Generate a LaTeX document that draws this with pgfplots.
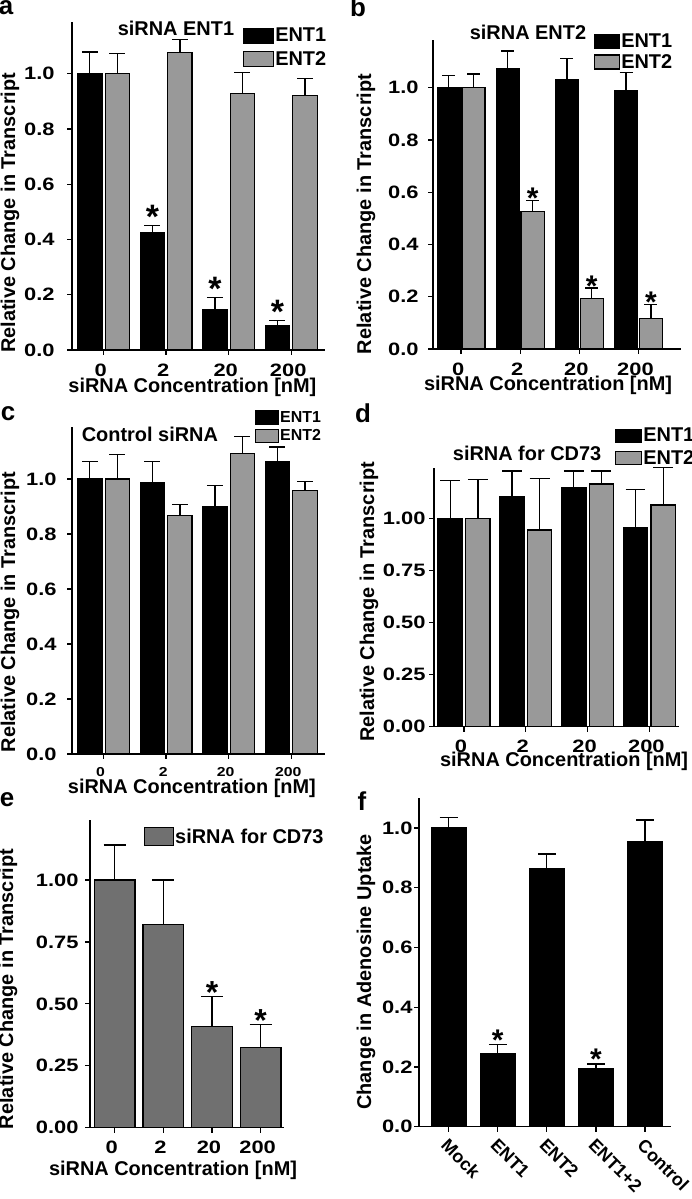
\documentclass[border=0pt]{standalone}
\usepackage{pgfplots}
\pgfplotsset{compat=1.18}
\usepackage{fontspec}
\setmainfont{Liberation Sans}
\newfontfamily\tickfont{Liberation Sans}[FakeStretch=1.22]
\newcommand\fs[1]{\fontsize{#1}{#1}\selectfont\bfseries}
\newcommand\tf[1]{\fontsize{#1}{#1}\selectfont\tickfont\bfseries}
\definecolor{barA}{gray}{0.6}
\definecolor{barE}{gray}{0.44}
\pgfplotsset{
  panel/.style={scale only axis, anchor=south west, clip=false,
    axis lines=left, axis line style={-, line width=1.3pt, black},
    every tick/.style={line width=1.3pt, black}, tick align=outside, major tick length=5pt,
    ymin=0, xtick={0,1,2,3}, xticklabels={0,2,20,200},
    /pgf/number format/assume math mode=true,
    tick label style={font=\tf{18}, black},
    xticklabel style={yshift=-5pt, xshift=-3pt},
    label style={font=\fs{20}},
    title style={font=\fs{20}, anchor=center, yshift=-6pt},
    legend cell align=left,
  },
  legimg/.style 2 args={legend image code/.code={\draw[##1, line width=1.2pt] (0pt,-0.5*#2) rectangle (#1,0.5*#2);}},
  leg/.style n args={3}{legend style={draw=none, fill=none, at={(axis description cs:#1,#2)}, anchor=north west,
      font=\fs{20}, inner sep=0pt, row sep=#3, nodes={inner sep=1pt}}},
  eb/.style={/pgfplots/error bars/y dir=plus, /pgfplots/error bars/y explicit,
    /pgfplots/error bars/error bar style={line width=1.3pt, black},
    /pgfplots/error bars/error mark options={rotate=90, mark size=#1, line width=1.3pt, black}},
  bbar/.style={ybar, bar shift=0pt, fill=black, draw=black, line width=1.2pt, curlegimg},
  gbar/.style={ybar, bar shift=0pt, fill=barA, draw=black, line width=1.2pt, curlegimg},
  curlegimg/.style={legimg={30pt}{15pt}},
  stars/.style 2 args={mark=none, draw=none, forget plot,
    nodes near coords={\fs{#2}*},
    every node near coord/.append style={anchor=base, inner sep=0pt, yshift=#1}},
}
\begin{document}
\begin{tikzpicture}
\path[use as bounding box] (0,0) rectangle (692bp,-1199bp);
\node[font=\fs{26}] at (6bp,-8bp) {a};
\node[font=\fs{26}] at (358bp,-7bp) {b};
\node[font=\fs{26}] at (8bp,-414bp) {c};
\node[font=\fs{26}] at (363bp,-413bp) {d};
\node[font=\fs{26}] at (7bp,-800bp) {e};
\node[font=\fs{26}] at (362bp,-801bp) {f};

% ---------- a ----------
\begin{axis}[panel, at={(72bp,-350bp)}, width=253bp, height=328bp,
  xmin=-0.505, xmax=3.54, ymax=1.187,
  ytick={0,0.2,0.4,0.6,0.8,1.0},
  yticklabel style={xshift=-9pt, /pgf/number format/.cd, fixed, fixed zerofill, precision=1},
  xlabel={siRNA Concentration [nM]}, ylabel={Relative Change in Transcript},
  xlabel style={at={(axis description cs:0.476,-0.113)}, anchor=center},
  ylabel style={at={(axis description cs:-0.245,0.418)}, anchor=center},
  title={siRNA ENT1}, title style={at={(axis description cs:0.411,0.982)}},
  leg={0.676}{0.985}{6pt}, curlegimg/.style={legimg={30pt}{15pt}}]
\addplot[bbar, bar width=0.39, eb=8pt] coordinates {
 (-0.22,1.0) +- (0,0.078) (0.78,0.425) +- (0,0.025) (1.78,0.145) +- (0,0.045) (2.78,0.087) +- (0,0.021)};
\addlegendentry{ENT1}
\addplot[gbar, bar width=0.39, eb=8pt] coordinates {
 (0.22,1.0) +- (0,0.072) (1.22,1.076) +- (0,0.048) (2.22,0.928) +- (0,0.077) (3.22,0.922) +- (0,0.06)};
\addlegendentry{ENT2}
\addplot[stars={-3pt}{34}] coordinates {(0.78,0.45) (1.78,0.19) (2.78,0.108)};
\end{axis}

% ---------- b ----------
\begin{axis}[panel, at={(433bp,-349bp)}, width=248bp, height=309bp,
  xmin=-0.475, xmax=3.72, ymax=1.182,
  ytick={0,0.2,0.4,0.6,0.8,1.0},
  yticklabel style={xshift=-6pt, /pgf/number format/.cd, fixed, fixed zerofill, precision=1},
  xlabel={siRNA Concentration [nM]}, ylabel={Relative Change in Transcript},
  xlabel style={at={(axis description cs:0.464,-0.118)}, anchor=center},
  ylabel style={at={(axis description cs:-0.27,0.437)}, anchor=center},
  title={siRNA ENT2}, title style={at={(axis description cs:0.383,1.026)}},
  leg={0.649}{1.023}{3pt}, curlegimg/.style={legimg={25pt}{14pt}}]
\addplot[bbar, bar width=0.39, eb=6.5pt] coordinates {
 (-0.21,1.0) +- (0,0.045) (0.79,1.071) +- (0,0.069) (1.79,1.029) +- (0,0.081) (2.79,0.988) +- (0,0.069)};
\addlegendentry{ENT1}
\addplot[gbar, bar width=0.39, eb=6.5pt] coordinates {
 (0.21,1.0) +- (0,0.052) (1.21,0.525) +- (0,0.042) (2.21,0.192) +- (0,0.041) (3.21,0.116) +- (0,0.053)};
\addlegendentry{ENT2}
\addplot[stars={-8pt}{30}] coordinates {(1.21,0.567) (2.21,0.233) (3.21,0.169)};
\end{axis}

% ---------- c ----------
\begin{axis}[panel, at={(72bp,-754bp)}, width=253bp, height=327bp,
  xmin=-0.505, xmax=3.54, ymax=1.189,
  ytick={0,0.2,0.4,0.6,0.8,1.0},
  yticklabel style={xshift=-7pt, /pgf/number format/.cd, fixed, fixed zerofill, precision=1},
  xticklabel style={font=\tf{13}},
  xlabel={siRNA Concentration [nM]}, ylabel={Relative Change in Transcript},
  xlabel style={at={(axis description cs:0.474,-0.104)}, anchor=center},
  ylabel style={at={(axis description cs:-0.245,0.434)}, anchor=center},
  title={Control siRNA}, title style={at={(axis description cs:0.308,0.976)}},
  leg={0.723}{1.052}{4pt}, legend style={font=\fs{16}}, curlegimg/.style={legimg={23pt}{13pt}}]
\addplot[bbar, bar width=0.39, eb=8pt] coordinates {
 (-0.22,1.0) +- (0,0.064) (0.78,0.988) +- (0,0.076) (1.78,0.898) +- (0,0.078) (2.78,1.064) +- (0,0.052)};
\addlegendentry{ENT1}
\addplot[gbar, bar width=0.39, eb=8pt] coordinates {
 (0.22,1.0) +- (0,0.09) (1.22,0.867) +- (0,0.04) (2.22,1.092) +- (0,0.063) (3.22,0.959) +- (0,0.033)};
\addlegendentry{ENT2}
\end{axis}

% ---------- d ----------
\begin{axis}[panel, at={(434bp,-726.7bp)}, width=245bp, height=258.4bp,
  xmin=-0.486, xmax=3.48, ymax=1.24,
  ytick={0,0.25,0.5,0.75,1.0},
  yticklabel style={xshift=0pt, /pgf/number format/.cd, fixed, fixed zerofill, precision=2},
  xlabel={siRNA Concentration [nM]}, ylabel={Relative Change in Transcript},
  xlabel style={at={(axis description cs:0.531,-0.133)}, anchor=center},
  ylabel style={at={(axis description cs:-0.265,0.483)}, anchor=center},
  title={siRNA for CD73}, title style={at={(axis description cs:0.38,1.059)}},
  leg={0.739}{1.16}{5pt}, curlegimg/.style={legimg={26pt}{13pt}}]
\addplot[bbar, bar width=0.394, eb=10pt] coordinates {
 (-0.224,1.0) +- (0,0.18) (0.776,1.104) +- (0,0.123) (1.776,1.146) +- (0,0.081) (2.776,0.955) +- (0,0.184)};
\addlegendentry{ENT1}
\addplot[gbar, bar width=0.394, eb=10pt] coordinates {
 (0.224,1.0) +- (0,0.187) (1.224,0.944) +- (0,0.246) (2.224,1.165) +- (0,0.062) (3.224,1.064) +- (0,0.181)};
\addlegendentry{ENT2}
\end{axis}

% ---------- e ----------
\begin{axis}[panel, at={(90bp,-1127.7bp)}, width=194bp, height=307.7bp,
  xmin=-0.507, xmax=3.48, ymax=1.242,
  ytick={0,0.25,0.5,0.75,1.0},
  yticklabel style={xshift=-3pt, /pgf/number format/.cd, fixed, fixed zerofill, precision=2},
  xlabel={siRNA Concentration [nM]}, ylabel={Relative Change in Transcript},
  xlabel style={at={(axis description cs:0.428,-0.137)}, anchor=center},
  ylabel style={at={(axis description cs:-0.423,0.451)}, anchor=center},
  leg={0.278}{0.977}{5pt}, curlegimg/.style={legimg={29pt}{18pt}}]
\addplot[ybar, bar shift=0pt, fill=barE, draw=black, line width=1.2pt, curlegimg, bar width=0.836, eb=11pt] coordinates {
 (0,1.0) +- (0,0.141) (1,0.821) +- (0,0.179) (2,0.41) +- (0,0.119) (3,0.323) +- (0,0.094)};
\addlegendentry{siRNA for CD73}
\addplot[stars={-7pt}{32}] coordinates {(2,0.529) (3,0.417)};
\end{axis}

% ---------- f ----------
\begin{axis}[panel, at={(419bp,-1126.7bp)}, width=252bp, height=328.7bp,
  xmin=-0.605, xmax=4.53, ymax=1.10,
  ytick={0,0.2,0.4,0.6,0.8,1.0},
  yticklabel style={xshift=2pt, /pgf/number format/.cd, fixed, fixed zerofill, precision=1},
  xtick={0,1,2,3,4}, xticklabels={Mock,ENT1,ENT2,ENT1+2,Control},
  xticklabel style={font=\fs{18}, rotate=-45, anchor=north west, inner sep=1pt, yshift=3pt, xshift=2pt},
  ylabel={Change in Adenosine Uptake},
  ylabel style={at={(axis description cs:-0.21,0.471)}, anchor=center}]
\addplot[ybar, bar shift=0pt, fill=black, draw=black, line width=1.2pt, bar width=0.71, eb=9pt] coordinates {
 (0,1.0) +- (0,0.034) (1,0.244) +- (0,0.03) (2,0.863) +- (0,0.05) (3,0.193) +- (0,0.017) (4,0.953) +- (0,0.073)};
\addplot[stars={-6pt}{30}] coordinates {(1,0.274) (3,0.21)};
\end{axis}
\end{tikzpicture}
\end{document}
